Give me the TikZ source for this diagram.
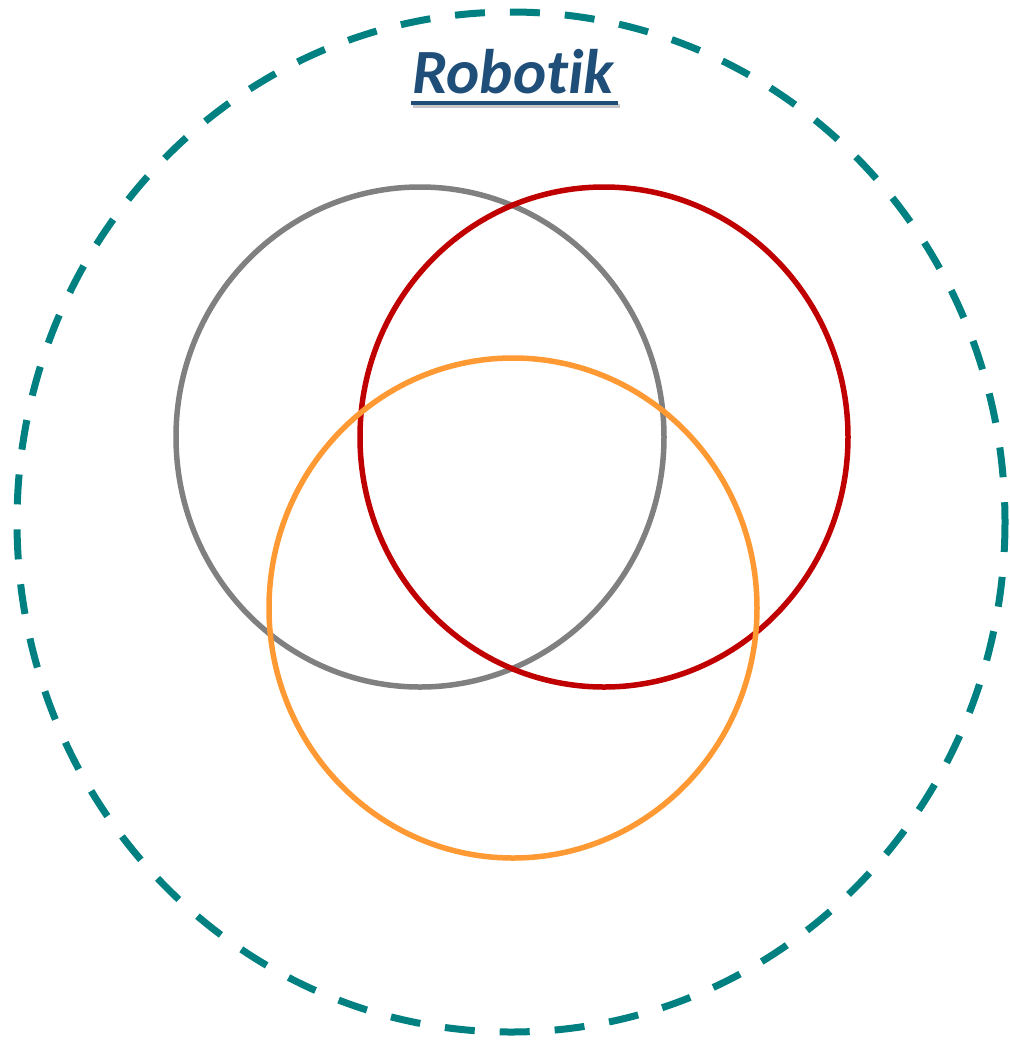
\documentclass[tikz,border=0pt]{standalone}
\usepackage{fontspec}
\setmainfont{Carlito}[Ligatures={NoCommon,NoRequired,NoContextual}]
\begin{document}
\begin{tikzpicture}[x=1pt,y=-1pt,
  ring/.style={line width=5.5pt},
  outerring/.style={line width=7pt, draw={rgb,255:red,0;green,128;blue,128}, dash pattern=on 30pt off 25pt},
  titletext/.style={font=\bfseries\itshape\fontsize{63}{66}\selectfont, inner sep=0pt, anchor=base}]
\useasboundingbox (0,0) rectangle (1010,1045);
\definecolor{tealc}{RGB}{0,128,128}
\definecolor{grayc}{RGB}{128,128,128}
\definecolor{redc}{RGB}{192,0,0}
\definecolor{orangec}{RGB}{255,153,51}
\definecolor{titleblue}{RGB}{31,78,121}
\draw[outerring] (511,522) ellipse [x radius=494, y radius=510];
\draw[ring, grayc] (420,437) ellipse [x radius=244, y radius=250];
\draw[ring, redc] (604,437) ellipse [x radius=244, y radius=250];
\draw[ring, orangec] (513,608) ellipse [x radius=244, y radius=250];
\coordinate (ulA) at (411,103);
\coordinate (ulB) at (618,103);
\draw[line width=4pt, black!22] ([shift={(2,3)}]ulA) -- ([shift={(2,3)}]ulB);
\draw[line width=4pt, titleblue] (ulA) -- (ulB);
\node[titletext, text=titleblue] (title) at (513,93) {Robotik};
\end{tikzpicture}
\end{document}
